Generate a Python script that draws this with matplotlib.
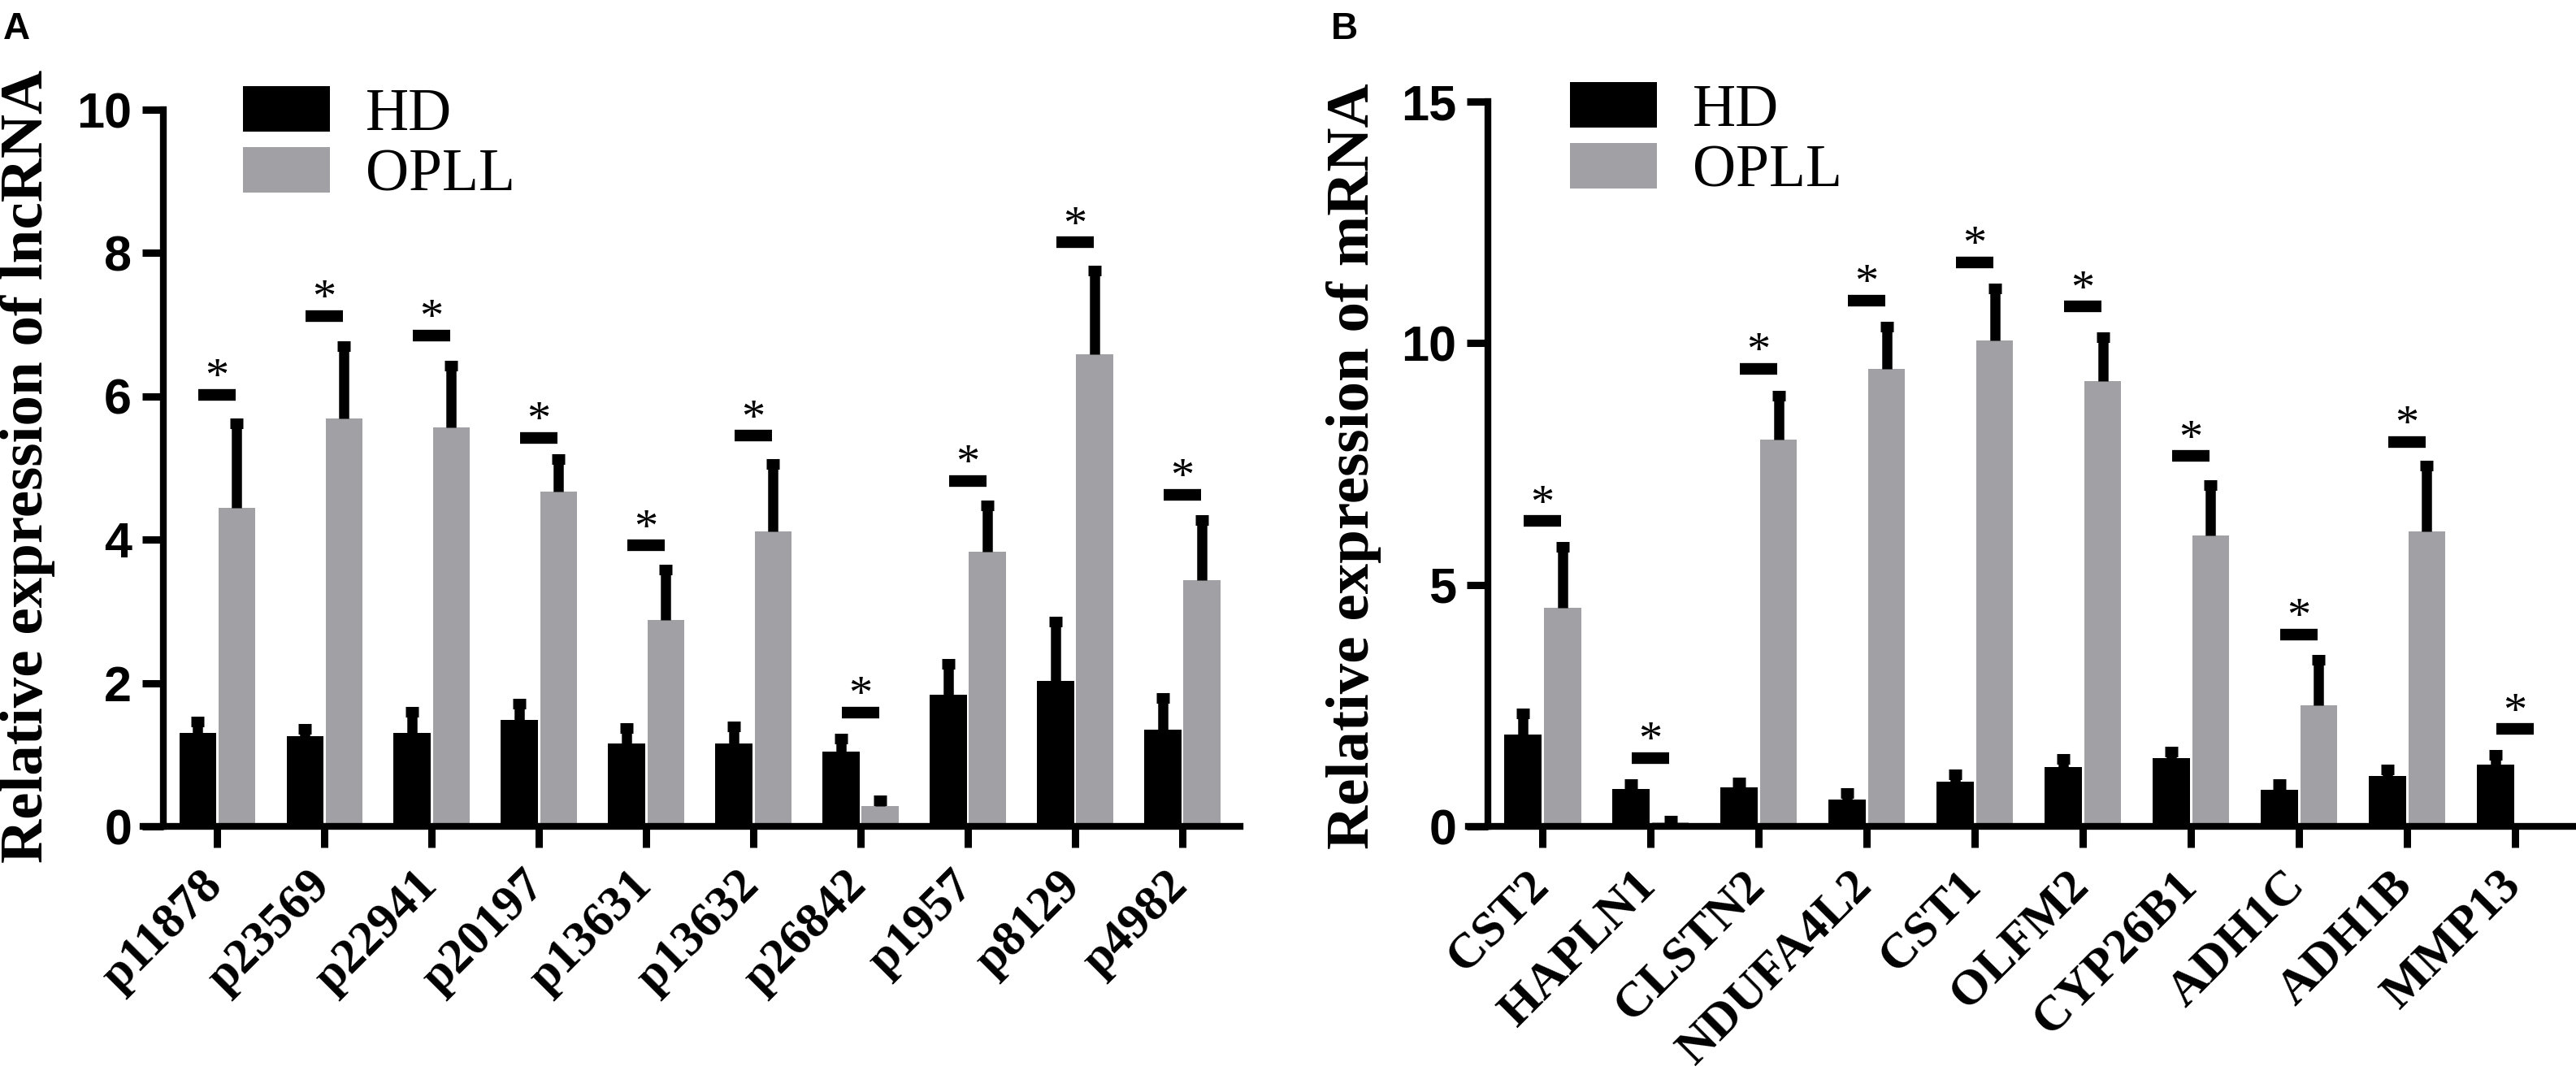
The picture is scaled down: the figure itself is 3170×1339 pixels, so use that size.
import matplotlib
matplotlib.use("Agg")
import matplotlib.pyplot as plt
import numpy as np
from matplotlib.transforms import ScaledTranslation

# ---------------- data ----------------
lnc_genes = ["p11878", "p23569", "p22941", "p20197", "p13631",
             "p13632", "p26842", "p1957", "p8129", "p4982"]
lnc_hd = [1.30, 1.26, 1.30, 1.49, 1.16, 1.16, 1.04, 1.84, 2.03, 1.35]
lnc_hd_err = [0.16, 0.10, 0.30, 0.22, 0.21, 0.23, 0.19, 0.43, 0.83, 0.44]
lnc_opll = [4.45, 5.69, 5.57, 4.67, 2.88, 4.11, 0.28, 3.83, 6.59, 3.43]
lnc_opll_err = [1.17, 1.01, 0.86, 0.46, 0.70, 0.95, 0.08, 0.65, 1.16, 0.85]
lnc_sig = [6.02, 7.12, 6.85, 5.42, 3.92, 5.45, 1.59, 4.82, 8.15, 4.63]
lnc_yticks = [0, 2, 4, 6, 8, 10]

m_genes = ["CST2", "HAPLN1", "CLSTN2", "NDUFA4L2", "CST1",
           "OLFM2", "CYP26B1", "ADH1C", "ADH1B", "MMP13"]
m_hd = [1.90, 0.78, 0.80, 0.56, 0.93, 1.22, 1.42, 0.75, 1.04, 1.28]
m_hd_err = [0.43, 0.09, 0.10, 0.13, 0.15, 0.17, 0.13, 0.12, 0.13, 0.20]
m_opll = [4.53, 0.08, 8.00, 9.47, 10.06, 9.21, 6.02, 2.51, 6.11, 0.0]
m_opll_err = [1.25, 0.03, 0.91, 0.88, 1.08, 0.92, 1.05, 0.94, 1.36, 0.0]
m_sig = [6.32, 1.42, 9.47, 10.88, 11.67, 10.76, 7.66, 3.97, 7.96, 2.01]
m_yticks = [0, 5, 10, 15]

groups = ["HD", "OPLL"]
colors = ["#000000", "#a1a1a5"]

SERIF = "Liberation Serif"
SANS = "Liberation Sans"

W, H = 3170, 1339
fig = plt.figure(figsize=(W / 100, H / 100), dpi=100)


def px_box(x0, x1, ytop, ybot):
    return [x0 / W, 1 - ybot / H, (x1 - x0) / W, (ybot - ytop) / H]


def panel(ax, cats, hd, hd_err, opll, opll_err, sig, yticks, ylabel,
          xlim, legend_xy, ylabel_x):
    x = np.arange(len(cats))
    bw = 0.345
    b1 = ax.bar(x - 0.18, hd, bw, color=colors[0], label=groups[0], zorder=2)
    b2 = ax.bar(x + 0.185, opll, bw, color=colors[1], label=groups[1], zorder=2)
    for xs, ms, es in [(x - 0.18, hd, hd_err), (x + 0.185, opll, opll_err)]:
        ms = np.asarray(ms)
        es = np.asarray(es)
        keep = es > 0
        eb = ax.errorbar(xs[keep], ms[keep], yerr=[np.zeros(keep.sum()), es[keep]],
                         fmt="none", ecolor="black", elinewidth=9,
                         capsize=6.1, capthick=9.4, zorder=3)
        caps = eb[1]
        if len(caps) >= 1:
            caps[0].set_visible(False)
    ax.hlines(sig, x - 0.175, x + 0.175, colors="black", linewidth=10.3,
              zorder=4)
    for xi, s in zip(x, sig):
        ax.annotate("*", (xi, s), xytext=(0, 4), textcoords="offset points",
                    ha="center", va="baseline", fontsize=42, family=SERIF,
                    zorder=5)

    ax.set_xlim(*xlim)
    ax.set_ylim(yticks[0], yticks[-1])
    ax.spines["top"].set_visible(False)
    ax.spines["right"].set_visible(False)
    ax.spines["left"].set_position(("data", -0.5))
    ax.spines["left"].set_linewidth(6)
    ax.spines["bottom"].set_linewidth(6)
    ax.set_yticks(yticks)
    ax.set_yticklabels([str(t) for t in yticks], fontsize=44,
                       fontweight="bold", family=SANS)
    ax.set_xticks(x)
    ax.set_xticklabels(cats, fontsize=44, fontweight="bold", family=SERIF,
                       rotation=45, ha="right", va="baseline",
                       rotation_mode="anchor")
    ax.tick_params(axis="both", direction="out", length=19, width=6.5)
    ax.tick_params(axis="y", pad=9)
    ax.tick_params(axis="x", pad=35)
    off = ScaledTranslation(0.09, 0, fig.dpi_scale_trans)
    for lab in ax.get_xticklabels():
        lab.set_transform(lab.get_transform() + off)

    fig.text(ylabel_x, 1 - 574 / H, ylabel, rotation=90,
             rotation_mode="anchor", ha="center", va="baseline",
             fontsize=54, fontweight="bold", family=SERIF)

    ax.legend(handles=[b1, b2], labels=groups, loc="upper left",
              bbox_to_anchor=legend_xy, bbox_transform=fig.transFigure,
              frameon=False, prop={"family": SERIF, "size": 53},
              handlelength=1.45, handleheight=0.79, handletextpad=0.6,
              labelspacing=0.08, borderpad=0, borderaxespad=0)


axA = fig.add_axes(px_box(176, 1526, 135, 1017))
panel(axA, lnc_genes, lnc_hd, lnc_hd_err, lnc_opll, lnc_opll_err, lnc_sig,
      lnc_yticks, "Relative expression of lncRNA", (-0.69, 9.54),
      (299 / W, 1 - 106 / H), 52 / W)

axB = fig.add_axes(px_box(1807, 3168, 125, 1017))
panel(axB, m_genes, m_hd, m_hd_err, m_opll, m_opll_err, m_sig,
      m_yticks, "Relative expression of mRNA", (-0.684, 9.55),
      (1932 / W, 1 - 101 / H), 1684 / W)

fig.text(4 / W, 1 - 48 / H, "A", fontsize=33, fontweight="bold", family=SANS,
         ha="left", va="baseline")
fig.text(1638 / W, 1 - 48 / H, "B", fontsize=33, fontweight="bold",
         family=SANS, ha="left", va="baseline")

fig.savefig("out.png", dpi=100)
